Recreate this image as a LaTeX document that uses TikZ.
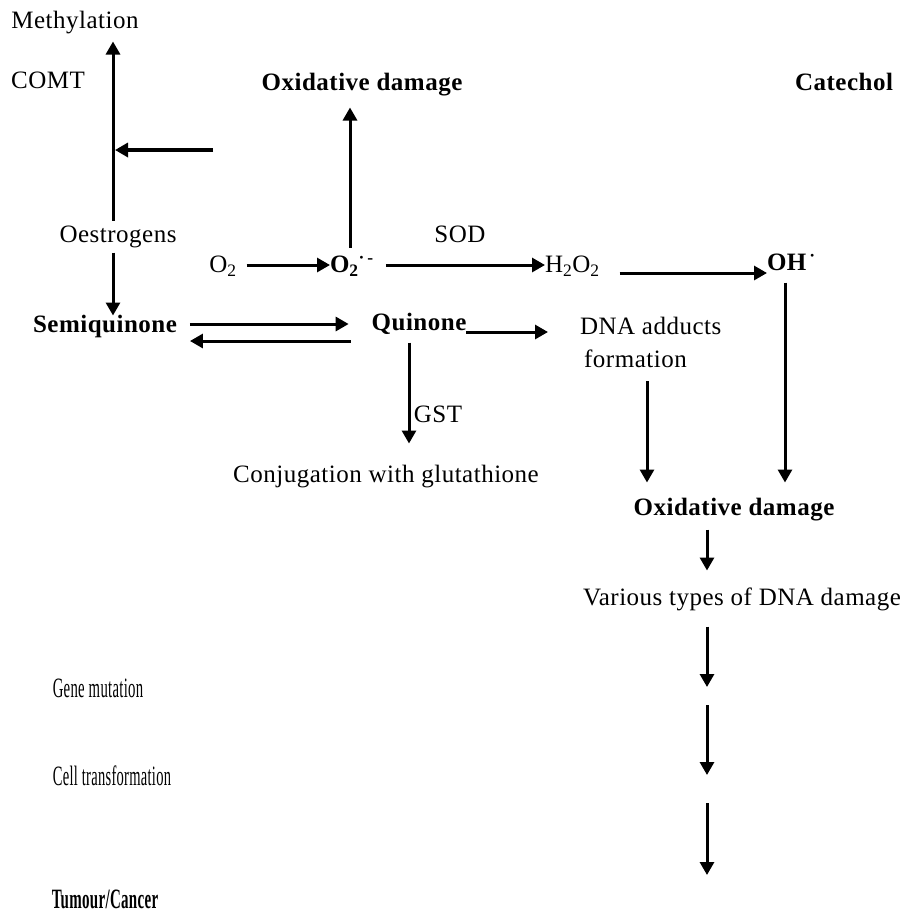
\documentclass[tikz,border=0pt]{standalone}
\usepackage{fontspec}
\usepackage{graphicx}
\setmainfont{Liberation Serif}[LetterSpace=2]
\usetikzlibrary{arrows.meta}
\begin{document}
\begin{tikzpicture}[x=1pt,y=-1pt,
  every node/.style={inner sep=0pt, outer sep=0pt, text height=16pt, text depth=5pt, font=\fontsize{25}{33}\selectfont},
  bt/.style={font=\fontsize{25}{33}\selectfont\bfseries},
  arr/.style={line width=3pt, -{Triangle[length=13pt,width=14pt]}}]
\useasboundingbox (0,0) rectangle (908,914);
\fill[white] (0,0) rectangle (908,914);
% x-positions of vertical connectors
\coordinate (vx) at (113,0);
\coordinate (ux) at (350,0);
\coordinate (gx) at (409,0);
\coordinate (dx) at (647,0);
\coordinate (ox) at (785,0);
\coordinate (ax) at (707,0);
% nodes
\node (meth) at (75,23) {Methylation};
\node (comt) at (48,83) {COMT};
\node[bt] (oxd1) at (362,85) {Oxidative damage};
\node[bt] (cat) at (844,85) {Catechol};
\node (oes) at (118,237) {Oestrogens};
\node (sod) at (460,237) {SOD};
\node (o2) at (223,267) {O\textsubscript{2}};
\node[bt, anchor=west] (o2r) at (330,267) {O\textsubscript{2}\textsuperscript{·\,-}};
\node[anchor=west] (h2o2) at (545,267) {H\textsubscript{2}O\textsubscript{2}};
\node[bt, anchor=west] (oh) at (767,265) {OH\textsuperscript{\,·}};
\node[bt] (semi) at (105,327) {Semiquinone};
\node[bt] (quin) at (419,325) {Quinone};
\node[anchor=west, align=left, text height=, text depth=] (dna) at (580,342) {DNA adducts\\\,formation};
\node (gst) at (438,417) {GST};
\node (conj) at (386,477) {Conjugation with glutathione};
\node[bt] (oxd2) at (734,510) {Oxidative damage};
\node (var) at (742,600) {Various types of DNA damage};
\node (gene) at (98,692) {\scalebox{0.59}[1.12]{Gene mutation}};
\node (cell) at (112,780) {\scalebox{0.58}[1.12]{Cell transformation}};
\node[bt] (tum) at (105,903) {\scalebox{0.6}[1.12]{Tumour/Cancer}};
% connectors
\draw[arr, shorten <=6pt, shorten >=8pt] (oes.north -| vx) -- (meth.south -| vx);
\coordinate (hstart) at (213,150);
\coordinate (vjoin) at (115,150);
\draw[arr, line width=3.5pt] (hstart) -- (vjoin);
\draw[arr, shorten <=5pt, shorten >=1pt] (oes.south -| vx) -- (semi.north -| vx);
\draw[arr, shorten <=13pt, shorten >=23pt] ([yshift=3pt]semi.east) -- ([yshift=3pt]semi.east -| quin.west);
\draw[arr, shorten <=21pt, shorten >=13pt] ([yshift=-16pt]quin.west) -- ([yshift=-16pt]quin.west -| semi.east);
\draw[arr, shorten <=10pt] ([yshift=2pt]o2.east) -- ([yshift=2pt]o2.east -| o2r.west);
\draw[arr, shorten <=9pt, shorten >=12pt] (o2r.north -| ux) -- (oxd1.south -| ux);
\draw[arr, shorten <=12pt] ([yshift=2pt]o2r.east) -- ([yshift=2pt]o2r.east -| h2o2.west);
\draw[arr, shorten <=20pt] ([yshift=-6pt]h2o2.east) -- ([yshift=-6pt]h2o2.east -| oh.west);
\draw[arr, shorten <=7pt, shorten >=17pt] (oh.south -| ox) -- (oxd2.north -| ox);
\draw[arr, shorten >=32pt] ([yshift=-7pt]quin.east) -- ([yshift=-7pt]quin.east -| dna.west);
\draw[arr, shorten <=7pt, shorten >=23pt] (quin.south -| gx) -- (conj.north -| gx);
\draw[arr, shorten <=14pt, shorten >=17pt] (dna.south -| dx) -- (oxd2.north -| dx);
\draw[arr, shorten <=9pt, shorten >=19pt] (oxd2.south -| ax) -- (var.north -| ax);
\draw[arr, shorten <=16pt, shorten >=5pt] (var.south -| ax) -- (gene -| ax);
\draw[arr, shorten <=13pt, shorten >=5pt] (gene -| ax) -- (cell -| ax);
\draw[arr, shorten <=23pt, shorten >=28pt] (cell -| ax) -- (tum -| ax);
\end{tikzpicture}
\end{document}
